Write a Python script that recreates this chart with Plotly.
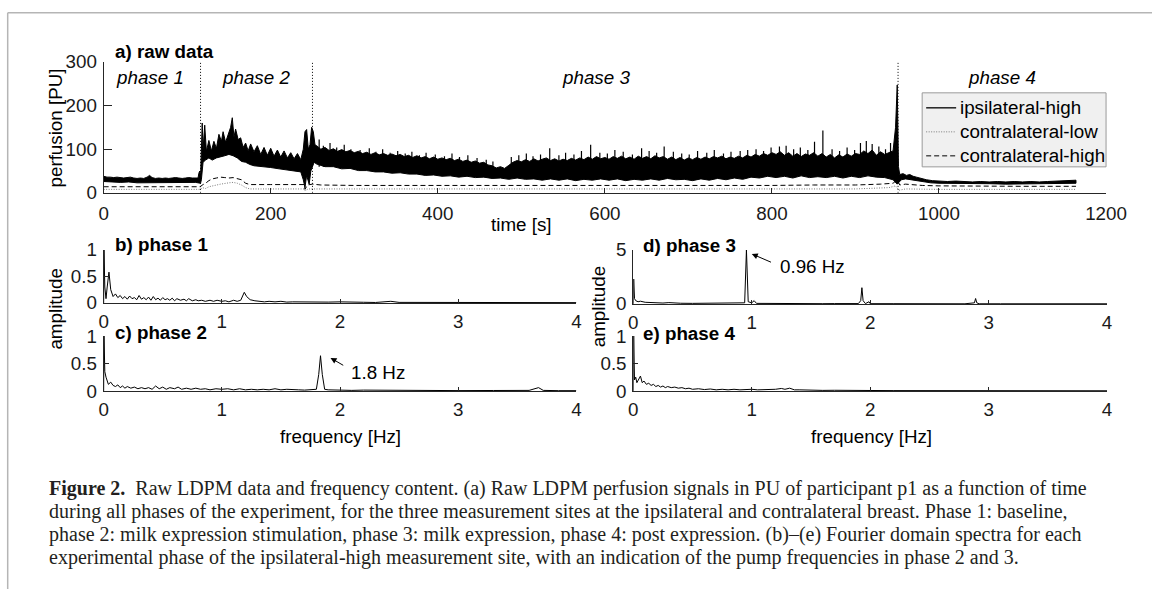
import plotly.graph_objects as go

W, H = 1152, 589
# the page is photographed with a small fixed rescale; positions below are given in
# reference-picture pixels and mapped back to layout pixels
SX, OX = 0.978, 5.3
SY, OY = 0.964, 10.2
def lx(t): return (t - OX) / SX
def ly(t): return (t - OY) / SY
def px(t): return lx(t) / W
def py(t): return 1 - ly(t) / H
FS = 18.8  # base font size

# ---------------- data: (a) raw perfusion [PU] vs time [s] ----------------
ipsi_upper_p12_t = [0, 4, 8, 12, 16, 20, 24, 28, 32, 36, 40, 44, 48, 52, 55, 58, 62, 66, 70, 74,
                    78, 82, 86, 90, 94, 98, 102, 106, 110, 113, 114, 115, 116,
                    117, 118, 119, 121, 123, 126, 129, 132, 135, 138, 141, 143, 146, 149, 152, 154,
                    156, 158, 161, 164, 167, 170, 173, 176, 180, 184, 188, 192, 196, 200, 204, 208,
                    212, 216, 220, 224, 228, 232, 236, 239, 241, 243, 245, 247, 249, 251, 253]
ipsi_upper_p12_v = [38, 36, 36, 35, 36, 35, 34, 35, 36, 34, 33, 34, 33, 36, 40, 35, 33, 34, 33, 34,
                    33, 34, 35, 34, 33, 34, 35, 34, 33, 34, 45, 50, 35,
                    120, 160, 100, 155, 95, 120, 96, 118, 102, 134, 118, 140, 116, 132, 150, 172,
                    128, 146, 122, 126, 104, 114, 96, 112, 94, 108, 88, 104, 86, 102, 84, 98,
                    82, 96, 80, 92, 78, 90, 76, 100, 140, 145, 100, 110, 150, 140, 110]
ipsi_upper_p3_t0, ipsi_upper_p3_dt = 255, 5
ipsi_upper_p3_v = [108, 100, 104, 97, 101, 95, 99, 94, 97, 92,
                   95, 90, 93, 88, 92, 87, 90, 86, 89, 85,
                   88, 83, 86, 81, 85, 80, 83, 78, 82, 77,
                   80, 76, 79, 74, 77, 72, 75, 70, 73, 68,
                   70, 64, 62, 57, 60, 56, 63, 70, 74, 71,
                   76, 72, 78, 73, 77, 80, 74, 78, 73, 77,
                   74, 79, 75, 80, 76, 82, 77, 83, 78, 81,
                   77, 83, 79, 84, 78, 82, 77, 84, 79, 83,
                   78, 85, 80, 83, 77, 82, 76, 81, 75, 80,
                   76, 81, 77, 82, 78, 83, 80, 84, 78, 82,
                   79, 84, 80, 86, 82, 88, 84, 90, 86, 92,
                   88, 94, 86, 92, 84, 90, 83, 89, 86, 92,
                   84, 90, 82, 88, 80, 87, 82, 89, 84, 90,
                   88, 96, 90, 98, 86, 94, 88, 92, 96]
ipsi_upper_p4_t = [948, 950, 951.5, 953, 957, 961, 965, 969, 973, 978, 985, 992, 1000, 1010, 1020,
                   1030, 1040, 1050, 1060, 1070, 1080, 1090, 1100, 1110, 1120, 1130, 1140, 1150, 1158, 1164]
ipsi_upper_p4_v = [150, 247, 60, 42, 44, 40, 42, 38, 36, 33, 30, 28, 27, 26, 27,
                   26, 25, 26, 25, 26, 25, 26, 25, 26, 25, 26, 27, 27, 28, 29]

ipsi_lower_p12_t = [0, 10, 20, 30, 40, 50, 60, 70, 80, 90, 100, 110, 116,
                    117, 119, 122, 126, 130, 135, 140, 145, 150, 155, 160, 165, 170, 175, 180, 190,
                    200, 210, 220, 230, 236, 239, 241, 243, 246, 248, 252]
ipsi_lower_p12_v = [26, 25, 24, 25, 23, 24, 23, 24, 23, 24, 24, 24, 22,
                    30, 70, 75, 80, 75, 80, 82, 85, 88, 85, 80, 72, 70, 65, 62, 60,
                    58, 55, 52, 50, 48, 30, 12, 40, 20, 50, 70]
ipsi_lower_p3_t0, ipsi_lower_p3_dt = 255, 10
ipsi_lower_p3_v = [66, 60, 60, 55, 56, 51, 51, 48, 48, 45,
                   46, 43, 43, 40, 41, 38, 39, 36, 38, 35,
                   36, 33, 34, 31, 34, 31, 32, 29, 32, 29,
                   32, 28, 31, 29, 32, 29, 32, 28, 31, 29,
                   32, 29, 33, 30, 31, 28, 32, 29, 33, 30,
                   34, 31, 36, 34, 38, 35, 38, 34, 39, 35,
                   37, 35, 38, 34, 38, 35, 39, 36, 35, 30]
ipsi_lower_p4_t = [950, 955, 960, 970, 980, 990, 1000, 1020, 1040, 1060, 1080, 1100, 1120, 1140, 1164]
ipsi_lower_p4_v = [20, 30, 32, 30, 26, 23, 22, 21, 21, 21, 20, 20, 20, 21, 22]

# individual tall spikes of the ipsilateral-high signal in phase 3 (peak values)
ipsi_spike_base = 60
ipsi_spike_t = [258, 263, 271, 279, 288, 296, 307, 318, 326, 334,
                343, 352, 361, 369, 378, 386, 397, 408, 417, 426,
                436, 447, 458, 466, 488, 497, 506, 514, 523, 534,
                545, 553, 563, 572, 583, 594, 603, 612, 622, 633,
                644, 653, 662, 671, 682, 692, 701, 711, 722, 731,
                742, 751, 762, 771, 781, 790, 799, 809, 817, 826,
                834, 843, 851, 861, 872, 881, 890, 899, 906, 913,
                920, 928, 936, 942]
ipsi_spike_v = [122, 108, 114, 104, 110, 100, 98, 102, 94, 100,
                92, 96, 90, 94, 86, 92, 88, 84, 90, 82,
                86, 80, 76, 72, 82, 86, 90, 84, 88, 102,
                86, 92, 88, 96, 110, 92, 90, 98, 94, 88,
                102, 96, 92, 106, 94, 90, 88, 96, 92, 98,
                90, 94, 96, 98, 100, 96, 104, 106, 108, 100,
                104, 98, 117, 143, 100, 96, 104, 98, 114, 119,
                112, 106, 100, 114]

contra_high_t = [0, 116, 118, 122, 126, 130, 135, 140, 145, 150, 155, 160, 165, 170, 175, 200, 240,
                 241, 244, 250, 260, 300, 350, 400, 450, 500, 550, 600, 650, 700, 750, 800, 850,
                 900, 930, 945, 950, 953, 960, 980, 1000, 1050, 1100, 1164]
contra_high_v = [14, 14, 18, 22, 28, 32, 34, 36, 35, 34, 35, 33, 30, 22, 19, 19, 19,
                 8, 18, 20, 18, 17, 17, 17, 16, 17, 17, 16, 17, 16, 17, 17, 18,
                 18, 20, 22, 30, 18, 20, 17, 16, 15, 15, 15]
contra_low_t = [0, 116, 118, 122, 126, 130, 140, 150, 155, 160, 165, 170, 175, 240, 241, 245, 260,
                400, 600, 800, 900, 940, 948, 952, 960, 1000, 1164]
contra_low_v = [8, 8, 12, 10, 14, 16, 20, 23, 24, 22, 18, 12, 9, 9, 5, 9, 9,
                8, 8, 9, 9, 12, 16, 6, 9, 8, 8]

series_names = ["ipsilateral-high", "contralateral-low", "contralateral-high"]
phase_bounds = [116, 250, 951]
phase_names = ["phase 1", "phase 2", "phase 3", "phase 4"]
phase_label_t = [56, 182, 589, 1075]

time_ticks = [0, 200, 400, 600, 800, 1000, 1200]
perf_ticks = [0, 100, 200, 300]

# ---------------- data: (b)-(e) spectra, amplitude vs frequency [Hz] ----------------
spec_b_f = [0, 0.003, 0.01, 0.02, 0.03, 0.045, 0.06, 0.08, 0.1, 0.12, 0.14, 0.16, 0.18, 0.2, 0.22,
            0.24, 0.26, 0.28, 0.3, 0.32, 0.34, 0.36, 0.38, 0.4, 0.42, 0.44, 0.46, 0.48, 0.5, 0.52,
            0.54, 0.56, 0.58, 0.6, 0.62, 0.65, 0.68, 0.7, 0.72, 0.75, 0.78, 0.8, 0.83, 0.86, 0.9,
            0.93, 0.96, 1.0, 1.03, 1.06, 1.1, 1.13, 1.16, 1.19, 1.21, 1.24, 1.28, 1.32, 1.36, 1.4,
            1.45, 1.5, 1.55, 1.6, 1.7, 1.8, 1.9, 2.0, 2.1, 2.2, 2.3, 2.43, 2.5, 2.7, 3.0, 3.3, 3.6, 4.0]
spec_b_a = [0, 1.0, 0.3, 0.08, 0.3, 0.58, 0.25, 0.12, 0.17, 0.1, 0.14, 0.08, 0.12, 0.07, 0.13,
            0.08, 0.1, 0.06, 0.14, 0.07, 0.1, 0.06, 0.11, 0.05, 0.12, 0.06, 0.09, 0.05, 0.1, 0.06,
            0.08, 0.05, 0.09, 0.04, 0.08, 0.05, 0.07, 0.04, 0.08, 0.04, 0.06, 0.04, 0.05, 0.03, 0.05,
            0.03, 0.05, 0.03, 0.04, 0.02, 0.05, 0.03, 0.05, 0.2, 0.12, 0.06, 0.04, 0.03, 0.02, 0.03,
            0.02, 0.03, 0.015, 0.02, 0.015, 0.01, 0.015, 0.02, 0.01, 0.012, 0.008, 0.03, 0.01, 0.008,
            0.01, 0.005, 0.006, 0.005]
spec_c_f = [0, 0.003, 0.01, 0.02, 0.04, 0.06, 0.08, 0.1, 0.12, 0.14, 0.16, 0.18, 0.2, 0.23, 0.26,
            0.29, 0.32, 0.35, 0.38, 0.41, 0.44, 0.47, 0.5, 0.53, 0.56, 0.6, 0.63, 0.66, 0.7, 0.74,
            0.78, 0.82, 0.86, 0.9, 0.95, 1.0, 1.05, 1.1, 1.15, 1.2, 1.25, 1.3, 1.35, 1.4, 1.45, 1.5,
            1.55, 1.6, 1.65, 1.7, 1.75, 1.8, 1.82, 1.835, 1.85, 1.87, 1.9, 1.95, 2.0, 2.1, 2.2, 2.4,
            2.6, 2.8, 3.0, 3.3, 3.6, 3.68, 3.72, 3.85, 4.0]
spec_c_a = [0, 1.0, 0.35, 0.25, 0.12, 0.16, 0.1, 0.08, 0.11, 0.06, 0.09, 0.05, 0.08, 0.05, 0.07,
            0.04, 0.06, 0.04, 0.06, 0.03, 0.09, 0.04, 0.07, 0.03, 0.06, 0.04, 0.07, 0.03, 0.05, 0.03,
            0.05, 0.03, 0.04, 0.02, 0.04, 0.03, 0.04, 0.02, 0.04, 0.02, 0.03, 0.02, 0.03, 0.02, 0.04,
            0.02, 0.03, 0.02, 0.02, 0.015, 0.02, 0.03, 0.3, 0.64, 0.3, 0.03, 0.02, 0.015, 0.02, 0.01,
            0.015, 0.01, 0.008, 0.01, 0.006, 0.008, 0.01, 0.06, 0.01, 0.005, 0.005]
spec_d_f = [0, 0.003, 0.01, 0.02, 0.04, 0.06, 0.1, 0.15, 0.2, 0.25, 0.3, 0.35, 0.4, 0.5, 0.6, 0.7,
            0.8, 0.9, 0.94, 0.955, 0.97, 1.0, 1.02, 1.04, 1.1, 1.2, 1.3, 1.4, 1.5, 1.6, 1.7, 1.8,
            1.9, 1.92, 1.93, 1.94, 1.96, 1.99, 2.0, 2.2, 2.4, 2.6, 2.8, 2.88, 2.89, 2.9, 2.92, 3.1,
            3.4, 3.7, 3.84, 3.86, 4.0]
spec_d_a = [0, 2.3, 0.5, 0.3, 0.2, 0.25, 0.15, 0.12, 0.1, 0.08, 0.12, 0.08, 0.06, 0.05, 0.05, 0.04,
            0.04, 0.04, 0.1, 5.0, 0.2, 0.1, 0.3, 0.05, 0.04, 0.03, 0.04, 0.03, 0.03, 0.02, 0.03, 0.02,
            0.03, 0.3, 1.5, 0.3, 0.03, 0.2, 0.02, 0.02, 0.015, 0.015, 0.01, 0.1, 0.5, 0.1, 0.01, 0.01,
            0.01, 0.01, 0.06, 0.01, 0.01]
spec_e_f = [0, 0.003, 0.01, 0.02, 0.03, 0.045, 0.06, 0.075, 0.09, 0.11, 0.13, 0.15, 0.17, 0.19, 0.21,
            0.23, 0.25, 0.27, 0.29, 0.32, 0.35, 0.38, 0.41, 0.44, 0.47, 0.5, 0.55, 0.6, 0.65, 0.7,
            0.75, 0.8, 0.85, 0.9, 0.95, 1.0, 1.05, 1.1, 1.15, 1.2, 1.25, 1.28, 1.32, 1.36, 1.4, 1.45,
            1.5, 1.6, 1.7, 1.8, 1.9, 2.0, 2.2, 2.5, 3.0, 3.5, 4.0]
spec_e_a = [0, 1.0, 0.2, 0.25, 0.15, 0.22, 0.27, 0.15, 0.18, 0.12, 0.14, 0.1, 0.12, 0.08, 0.1,
            0.07, 0.09, 0.06, 0.08, 0.06, 0.07, 0.05, 0.06, 0.04, 0.05, 0.03, 0.04, 0.025, 0.035, 0.02,
            0.03, 0.02, 0.03, 0.02, 0.025, 0.03, 0.02, 0.025, 0.02, 0.03, 0.045, 0.03, 0.05, 0.02, 0.02,
            0.015, 0.02, 0.01, 0.012, 0.008, 0.01, 0.008, 0.006, 0.005, 0.004, 0.003, 0.003]

freq_ticks = [0, 1, 2, 3, 4]
amp_ticks_1 = [0, 0.5, 1]
amp_ticks_5 = [0, 5]

pump_c = dict(f=1.92, a=0.6, tail_f=2.04, tail_a=0.45, text="1.8 Hz", text_f=2.08, text_a=0.34)
pump_d = dict(f=1.0, a=4.63, tail_f=1.175, tail_a=3.8, text="0.96 Hz", text_f=1.22, text_a=3.43)

caption_lines = [
    "<b>Figure\u00a02.</b>\u00a0\u00a0Raw LDPM data and frequency content. (a) Raw LDPM perfusion signals in PU of participant p1 as a function of time",
    "during all phases of the experiment, for the three measurement sites at the ipsilateral and contralateral breast. Phase 1: baseline,",
    "phase 2: milk expression stimulation, phase 3: milk expression, phase 4: post expression. (b)\u2013(e) Fourier domain spectra for each",
    "experimental phase of the ipsilateral-high measurement site, with an indication of the pump frequencies in phase 2 and 3.",
]

# ---------------- build ----------------
up_t = ipsi_upper_p12_t + [ipsi_upper_p3_t0 + ipsi_upper_p3_dt * i for i in range(len(ipsi_upper_p3_v))] + ipsi_upper_p4_t
up_v = ipsi_upper_p12_v + ipsi_upper_p3_v + ipsi_upper_p4_v
lo_t = ipsi_lower_p12_t + [ipsi_lower_p3_t0 + ipsi_lower_p3_dt * i for i in range(len(ipsi_lower_p3_v))] + ipsi_lower_p4_t
lo_v = ipsi_lower_p12_v + ipsi_lower_p3_v + ipsi_lower_p4_v
band_x = up_t + lo_t[::-1]
band_y = up_v + lo_v[::-1]
spike_x, spike_y = [], []
for t, v in zip(ipsi_spike_t, ipsi_spike_v):
    spike_x += [t, t, None]
    spike_y += [ipsi_spike_base, v, None]

FONT = "Liberation Sans, Arial, sans-serif"
AX = "#262626"
fig = go.Figure()

styles = [dict(color="black", width=1.3),
          dict(color="#7a7a7a", width=1, dash="1px,1.5px"),
          dict(color="black", width=1, dash="5px,3px")]

fig.add_trace(go.Scatter(x=contra_low_t, y=contra_low_v, mode="lines", name=series_names[1],
                         line=styles[1], showlegend=False, xaxis="x", yaxis="y"))
fig.add_trace(go.Scatter(x=contra_high_t, y=contra_high_v, mode="lines", name=series_names[2],
                         line=styles[2], showlegend=False, xaxis="x", yaxis="y"))
fig.add_trace(go.Scatter(x=band_x, y=band_y, mode="lines", fill="toself", fillcolor="black",
                         name=series_names[0], line=dict(color="black", width=1),
                         showlegend=False, hoverinfo="skip", xaxis="x", yaxis="y"))
fig.add_trace(go.Scatter(x=spike_x, y=spike_y, mode="lines", name=series_names[0],
                         line=dict(color="black", width=1.2), showlegend=False, hoverinfo="skip",
                         xaxis="x", yaxis="y"))

specs = [("x2", "y2", spec_b_f, spec_b_a), ("x3", "y3", spec_c_f, spec_c_a),
         ("x4", "y4", spec_d_f, spec_d_a), ("x5", "y5", spec_e_f, spec_e_a)]
for xa, ya, f, a in specs:
    fig.add_trace(go.Scatter(x=f, y=a, mode="lines", line=dict(color="black", width=1),
                             showlegend=False, xaxis=xa, yaxis=ya))

tickfont = dict(family=FONT, size=FS, color="#1a1a1a")
def xax(dom, rng, tv, tl, anchor, ticklen=4, standoff=2):
    return dict(domain=[px(dom[0]), px(dom[1])], range=rng, tickvals=tv, ticktext=tl,
                anchor=anchor, showline=True, linecolor=AX, linewidth=1, ticks="inside",
                ticklen=ticklen, tickcolor=AX, tickwidth=1, showgrid=False, zeroline=False,
                tickfont=tickfont, ticklabelstandoff=standoff)
def yax(dom, rng, tv, tl, anchor, ticklen=6):
    return dict(domain=[py(dom[1]), py(dom[0])], range=rng, tickvals=tv, ticktext=tl,
                anchor=anchor, showline=True, linecolor=AX, linewidth=1, ticks="inside",
                ticklen=ticklen, tickcolor=AX, tickwidth=1, showgrid=False, zeroline=False,
                tickfont=tickfont, ticklabelstandoff=2)

ft = [str(v) for v in freq_ticks]
fig.update_layout(
    width=W, height=H, margin=dict(l=0, r=0, t=0, b=0),
    paper_bgcolor="white", plot_bgcolor="rgba(0,0,0,0)",
    font=dict(family=FONT, size=FS, color="black"), showlegend=False,
    xaxis=xax((104, 1107), [0, 1200], time_ticks, [str(v) for v in time_ticks], "y", 5, 4),
    yaxis=yax((62, 193), [0, 300], perf_ticks, [str(v) for v in perf_ticks], "x", 8),
    xaxis2=xax((104, 577), [0, 4], freq_ticks, ft, "y2"),
    yaxis2=yax((250, 303), [0, 1], amp_ticks_1, ["0", "0.5", "1"], "x2", 5),
    xaxis3=xax((104, 577), [0, 4], freq_ticks, ft, "y3"),
    yaxis3=yax((336, 391), [0, 1], amp_ticks_1, ["0", "0.5", "1"], "x3", 5),
    xaxis4=xax((634, 1108), [0, 4], freq_ticks, ft, "y4"),
    yaxis4=yax((250, 304), [0, 5], amp_ticks_5, ["0", "5"], "x4", 5),
    xaxis5=xax((634, 1108), [0, 4], freq_ticks, ft, "y5"),
    yaxis5=yax((336, 391), [0, 1], amp_ticks_1, ["0", "0.5", "1"], "x5", 5),
)

shapes = []
for t in phase_bounds:
    shapes.append(dict(type="line", xref="x", yref="y", x0=t, x1=t, y0=0, y1=300,
                       line=dict(color="black", width=1, dash="1px,2px")))
# page frame
shapes.append(dict(type="line", xref="paper", yref="paper", x0=px(8), x1=1.05, y0=py(13), y1=py(13),
                   line=dict(color="#b5b5b5", width=1.5)))
shapes.append(dict(type="line", xref="paper", yref="paper", x0=px(8), x1=px(8), y0=py(13), y1=-0.05,
                   line=dict(color="#b5b5b5", width=1.5)))
# legend box (MATLAB style)
shapes.append(dict(type="rect", xref="paper", yref="paper", x0=px(923), x1=px(1107),
                   y0=py(167), y1=py(93), fillcolor="#f0f0f0", line=dict(color="#9a9a9a", width=1),
                   layer="above"))
leg_y = [108, 132, 156]
for st, y in zip(styles, leg_y):
    shapes.append(dict(type="line", xref="paper", yref="paper", x0=px(927), x1=px(957),
                       y0=py(y), y1=py(y), line=st, layer="above"))
fig.update_layout(shapes=shapes)

ann = []
def txt(x, y, s, size=FS, bold=False, italic=False, xanchor="left", angle=0, family=FONT, color="black"):
    if bold: s = "<b>" + s + "</b>"
    if italic: s = "<i>" + s + "</i>"
    ann.append(dict(x=px(x), y=py(y), xref="paper", yref="paper", text=s, showarrow=False,
                    xanchor=xanchor, yanchor="middle", textangle=angle,
                    font=dict(family=family, size=size, color=color)))

for name, y in zip(series_names, leg_y):
    txt(959, y, name)
txt(113, 52, "a) raw data", bold=True)
txt(113, 245, "b) phase 1", bold=True)
txt(113, 333, "c) phase 2", bold=True)
txt(642, 246, "d) phase 3", bold=True)
txt(642, 334, "e) phase 4", bold=True)
for name, t in zip(phase_names, phase_label_t):
    ann.append(dict(x=t, y=264, xref="x", yref="y", text="<i>" + name + "</i>", showarrow=False,
                    xanchor="center", yanchor="middle", font=dict(family=FONT, size=FS, color="black")))
txt(56, 128, "perfusion [PU]", xanchor="center", angle=-90)
txt(56, 309, "amplitude", xanchor="center", angle=-90)
txt(600, 307, "amplitude", xanchor="center", angle=-90)
txt(522, 225, "time [s]", xanchor="center")
txt(341, 437, "frequency [Hz]", xanchor="center")
txt(872, 437, "frequency [Hz]", xanchor="center")

for p, xa, ya in [(pump_c, "x3", "y3"), (pump_d, "x4", "y4")]:
    ann.append(dict(x=p["f"], y=p["a"], xref=xa, yref=ya, ax=p["tail_f"], ay=p["tail_a"],
                    axref=xa, ayref=ya, text="", showarrow=True, arrowhead=2, arrowsize=1.2,
                    arrowwidth=1, arrowcolor="black"))
    ann.append(dict(x=p["text_f"], y=p["text_a"], xref=xa, yref=ya, text=p["text"], showarrow=False,
                    xanchor="left", yanchor="middle", font=dict(family=FONT, size=FS, color="black")))

cap_y = [489, 512, 535, 558]
for s, y in zip(caption_lines, cap_y):
    ann.append(dict(x=px(47), y=py(y), xref="paper", yref="paper", text=s, showarrow=False,
                    xanchor="left", yanchor="middle",
                    font=dict(family="Liberation Serif, Times New Roman, serif", size=20, color="#231f20")))

fig.update_layout(annotations=ann)
fig.write_html(
    "out.html",
    config={"displayModeBar": False},
    post_script=("var gd=document.getElementById('{plot_id}');"
                 "gd.style.position='fixed';gd.style.left='0px';gd.style.top='0px';"
                 "document.documentElement.style.margin='0';document.body.style.margin='0';"
                 "document.documentElement.style.overflow='hidden';document.body.style.overflow='hidden';"),
)
